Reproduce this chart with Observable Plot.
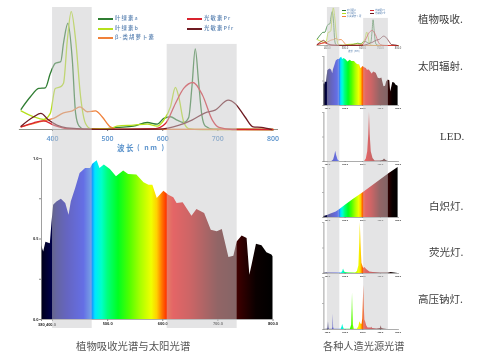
<!DOCTYPE html>
<html><head><meta charset="utf-8">
<script src="https://cdn.jsdelivr.net/npm/d3@7"></script>
<script src="https://cdn.jsdelivr.net/npm/@observablehq/plot@0.6"></script>
<style>
html,body{margin:0;padding:0;background:#fff}
#page{position:relative;width:499px;height:358px;overflow:hidden;background:#fff;filter:blur(.6px);font-family:"Noto Sans CJK SC","Noto Sans",sans-serif}
#page svg{position:absolute;overflow:visible;background:transparent;max-width:none}
.t{position:absolute;white-space:nowrap;line-height:1}
.leg{color:#5f86b4;letter-spacing:1.1px;font-size:5.4px;font-weight:500}
.sw{position:absolute;height:1.6px}
.lab{color:#3c3c3c;font-size:10.5px;transform:translateY(-50%)}
</style></head><body><div id="page"></div>
<script>
// Absorption curves: [wavelength nm] and [relative absorbance]
const chlAx=[343,360,375,387,396,405,415,420,428,436,442,448,457,487,517,547,572,590,602,614,626,638,647,653,659,665,671,677,692,800];
const chlAy=[.17,.275,.345,.35,.47,.556,.57,.725,.893,.584,.135,.03,.003,.003,.017,.028,.059,.045,.093,.107,.079,.059,.1,.36,.677,.4,.12,.03,.003,0];
const chlBx=[343,366,384,396,405,415,420,427,434,442,451,460,469,505,517,547,572,590,602,614,623,629,638,647,668,800];
const chlBy=[.157,.107,.084,.135,.345,.36,.388,.753,.99,.753,.275,.05,.008,.008,.028,.037,.045,.028,.079,.19,.354,.275,.065,.008,0,0];
const carX=[343,384,402,420,436,450,463,478,490,505,514,800];
const carY=[.022,.073,.093,.14,.157,.19,.149,.157,.107,.022,.003,0];
const prX=[343,366,384,402,426,487,587,605,623,638,655,672,690,702,726,800];
const prY=[.022,.056,.073,.037,.008,.001,.008,.05,.219,.346,.395,.29,.079,.017,0,0];
const pfrX=[343,366,379,393,408,426,487,593,630,653,677,695,719,731,749,764,779,797];
const pfrY=[.028,.107,.135,.079,.037,.014,.001,.003,.037,.079,.14,.163,.247,.219,.107,.022,.017,0];
const curveNames=["叶绿素a","叶绿素b","β-类胡萝卜素","光敏素Pr","光敏素Pfr"];
const curveColors=["#2f7d32","#b6e01c","#f0813a","#d9232e","#6e1b22"];

// Light source spectra
const sunX=[380,384,388,396,399,402,408,416,424,430,434,442,450,460,469,473,481,486,494,505,516,529,538,553,566,575,582,590,602,611,620,626,637,653,662,676,688,699,708,720,729,735,744,753,758,762,770,780,789,798,800];
const sunY=[.46,.42,.48,.47,.6,.71,.73,.747,.72,.648,.73,.814,.907,.938,.938,.965,.986,.938,.959,.932,.886,.923,.9,.897,.849,.834,.834,.752,.797,.772,.756,.72,.725,.642,.683,.658,.555,.545,.559,.385,.393,.482,.518,.503,.275,.337,.468,.458,.414,.4,.39];
const ledX=[380,425,435,442,447,452,460,470,610,620,628,634,638,642,648,658,670,700,715,723,732,745,800];
const ledY=[0,0,.03,.12,.21,.12,.03,0,0,.05,.2,.55,1,.55,.2,.06,.01,.01,.02,.05,.02,0,0];
const incX=[380,400,420,450,474,500,550,600,650,700,750,800];
const incY=[.02,.04,.07,.11,.17,.24,.37,.49,.62,.75,.88,1];
const fluX=[380,400,480,487,491,495,500,520,560,570,578,583,586,590,595,605,612,622,640,660,700,750,760,770,800];
const fluY=[.005,.01,.01,.04,.09,.05,.02,.01,.01,.04,.15,.6,1,.6,.2,.1,.12,.08,.03,.02,.01,.01,.02,.015,0];
const hpsX=[380,400,403,406,409,412,428,431,433,435,438,478,483,486,490,495,530,537,540,542,544,547,552,570,578,584,590,596,600,603,606,609,612,616,622,630,650,652,655,680,700,705,708,720,740,800];
const hpsY=[0,.005,.03,.15,.03,.005,.005,.04,.3,.04,.005,.005,.05,.1,.05,.005,.005,.08,.4,.7,.4,.08,.005,.005,.06,.15,.1,.1,.2,.5,.85,.4,.18,.15,.07,.03,.03,.05,.02,.01,.02,.07,.02,.01,0,0];

// Rainbow fill and the two highlighted absorption bands
const stopNm=[380,400,408,426,457,470,478,490,500,520,540,560,580,590,600,608,620,650,700,735,745,770,800];
const stopColor=["#000018","#00004a","#000078","#0000b4","#0014ff","#2070ff","#00e6ff","#00ffc8","#00ff80","#00ff20","#50ff00","#a8ff00","#f0ff00","#ffd000","#ff7000","#ff3000","#ff0000","#d00000","#5a0000","#400000","#300000","#0a0000","#000000"];
const bandStartLeft=[400,608];
const bandEndLeft=[472,735];
const bandTopLeft=[1,.885];
const bandStartRight=[400,605];
const bandEndRight=[470,745];
const bandTopRight=[1,.966];
const wlTicks=[400,500,600,700,800];
const specTicks=[380,400,500,600,700,800];
const specTickLabels=[500,600,700,800];
const sharedTickLabel="380,400.0";

const page=document.getElementById("page");
const zip=(xs,ys)=>xs.map((x,i)=>({x,y:ys[i]}));
const curves=[[chlAx,chlAy],[chlBx,chlBy],[carX,carY],[prX,prY],[pfrX,pfrY]];

function place(svg,left,top){svg.style.left=left+"px";svg.style.top=top+"px";page.appendChild(svg);}
function defsMark(){
  const ns="http://www.w3.org/2000/svg";
  const d=document.createElementNS(ns,"defs");
  const g=document.createElementNS(ns,"linearGradient");
  g.setAttribute("id","spec");g.setAttribute("x1","0");g.setAttribute("x2","1");g.setAttribute("y1","0");g.setAttribute("y2","0");
  stopNm.forEach((n,i)=>{const s=document.createElementNS(ns,"stop");s.setAttribute("offset",(n-380)/420);s.setAttribute("stop-color",stopColor[i]);g.appendChild(s);});
  d.appendChild(g);return d;
}
function curvePlot(o){
  const svg=Plot.plot({width:o.w,height:o.h,marginLeft:o.xr[0],marginRight:o.w-o.xr[1],marginTop:o.yr[1],marginBottom:o.h-o.yr[0],
    style:{fontFamily:"'Open Sans',sans-serif",background:"transparent"},
    x:{domain:o.xd,axis:null},y:{domain:[0,1],axis:null},
    marks:[
      Plot.ruleY([0],{stroke:"#8f8f84",strokeWidth:o.rw}),
      Plot.axisX({ticks:wlTicks,tickFormat:d=>o.fmt(d),tickSize:o.ts,tickPadding:o.tp,fontSize:o.fs,fontWeight:o.fw,color:o.tc,stroke:"#777",label:null}),
      ...curves.map(([xs,ys],i)=>Plot.line(zip(xs,ys),{x:"x",y:"y",stroke:curveColors[i],strokeWidth:o.sw,curve:"monotone-x"}))
    ]});
  place(svg,o.l,o.t);
}
function specPlot(o){
  const labelled=o.labels;
  const svg=Plot.plot({width:o.w,height:o.h,marginLeft:o.xr[0],marginRight:o.w-o.xr[1],marginTop:o.yr[1],marginBottom:o.h-o.yr[0],
    style:{fontFamily:"'Open Sans',sans-serif",background:"transparent"},
    x:{domain:[380,800],axis:null},y:{domain:[0,1],axis:null},
    marks:[
      defsMark,
      Plot.areaY(zip(o.xs,o.ys),{x:"x",y:"y",fill:"url(#spec)"}),
      Plot.axisY({ticks:o.yt,tickFormat:o.yf,tickSize:o.ts,tickPadding:1,fontSize:o.fs,fontWeight:700,color:"#333",stroke:"#888",label:null,anchor:"left"}),
      Plot.ruleX([380],{stroke:"#888",strokeWidth:.8}),
      Plot.ruleY([0],{stroke:"#888",strokeWidth:.7}),
      Plot.axisX({ticks:specTicks,tickFormat:d=>labelled.includes(d)?d+".0":"",tickSize:o.ts,tickPadding:.5,fontSize:o.fs,fontWeight:700,color:"#333",stroke:"#888",label:null}),
      o.shared?Plot.text([390],{x:d=>d,y:()=>0,text:()=>o.shared,dy:5,fontSize:o.fs,fontWeight:700,fill:"#333"}):null
    ]});
  place(svg,o.l,o.t);
}
function overlay(xr,starts,ends,tops,yr){
  const bands=starts.map((s,i)=>({s,e:ends[i],top:tops[i]}));
  const svg=Plot.plot({width:499,height:358,marginLeft:xr[0],marginRight:499-xr[1],marginTop:yr[1],marginBottom:358-yr[0],
    x:{domain:[380,800],axis:null},y:{domain:[0,1],axis:null},
    style:{background:"transparent"},
    marks:[Plot.rect(bands,{x1:"s",x2:"e",y1:()=>0,y2:"top",fill:"#c9c9cb",fillOpacity:.5})]});
  place(svg,0,0);
}
function text(s,left,top,cls,extra){
  const d=document.createElement("div");d.className="t "+cls;d.textContent=s;
  d.style.left=left+"px";d.style.top=top+"px";if(extra)Object.assign(d.style,extra);page.appendChild(d);
}

// Left column
curvePlot({l:0,t:0,w:290,h:155,xd:[340,810],xr:[18.9,278],yr:[129,10],rw:1,sw:1.3,ts:2,tp:5,fs:7,fw:600,tc:"#5b93cc",fmt:d=>d});
specPlot({l:0,t:150,w:290,h:190,xr:[41,272.5],yr:[169,8],xs:sunX,ys:sunY,yt:[0,.25,.5,.75,1],yf:d=>(d===0||d===.5||d===1)?d.toFixed(1):"",ts:2,fs:3.9,labels:specTickLabels,shared:sharedTickLabel});
text("波长",117,144,"",{color:"#5b93cc",letterSpacing:"1.5px",fontSize:"7.5px",fontWeight:"600"});
text("( nm )",137,144,"",{color:"#5b93cc",fontSize:"7px",letterSpacing:"1.5px",fontWeight:"600"});
[[0,19,98],[1,29,98],[2,38,98],[3,19,187],[4,29,187]].forEach(([i,y,x])=>{
  const s=document.createElement("div");s.className="sw";s.style.cssText+=`left:${x}px;top:${y-1}px;width:15px;background:${curveColors[i]}`;page.appendChild(s);
  text(curveNames[i],x+17,y-2.8,"leg");
});
text("植物吸收光谱与太阳光谱",76,341,"",{color:"#555",fontSize:"10.4px"});

// Right column
const miniX=[323.4,397.6];
curvePlot({l:310,t:0,w:100,h:55,xd:[343,800],xr:[6.7,87.5],yr:[45,7],rw:.7,sw:.8,ts:1,tp:.5,fs:2.6,fw:600,tc:"#777",fmt:d=>d+".0"});
const panels=[[sunX,sunY,105,56],[ledX,ledY,161,112],[incX,incY,217,167],[fluX,fluY,273,222],[hpsX,hpsY,329,277]];
panels.forEach(([xs,ys,b,tp])=>{
  const off=tp-4;
  specPlot({l:310,t:off,w:100,h:b-tp+10,xr:[13.4,87.6],yr:[b-off,tp-off],xs,ys,yt:[0,.5,1],yf:()=>"",ts:1,fs:2.2,labels:wlTicks});
});
[["叶绿素a",10,342],["叶绿素b",13,342],["β-类胡萝卜素",16,342],["光敏素Pr",10,370],["光敏素Pfr",13,370]].forEach(([n,y,x],k)=>{
  const s=document.createElement("div");s.className="sw";s.style.cssText+=`left:${x}px;top:${y-.5}px;width:4px;height:.8px;background:${curveColors[k]}`;page.appendChild(s);
  text(n,x+5,y-1.2,"",{fontSize:"2.4px",color:"#5f86b4"});
});
text("波长 (nm)",348,49.5,"",{fontSize:"2.6px",color:"#5f86b4"});
text("植物吸收.",418,19,"lab");
text("太阳辐射.",418,66,"lab");
text("LED.",440,136,"lab",{fontFamily:"'Liberation Serif',serif",fontSize:"11px"});
text("白炽灯.",429,206,"lab");
text("荧光灯.",429,252,"lab");
text("高压钠灯.",418,299,"lab");
text("各种人造光源光谱",323,341,"",{color:"#555",fontSize:"10.2px"});

overlay([41,272.5],bandStartLeft,bandEndLeft,bandTopLeft,[328,7]);
overlay(miniX,bandStartRight,bandEndRight,bandTopRight,[329,7]);
</script></body></html>
